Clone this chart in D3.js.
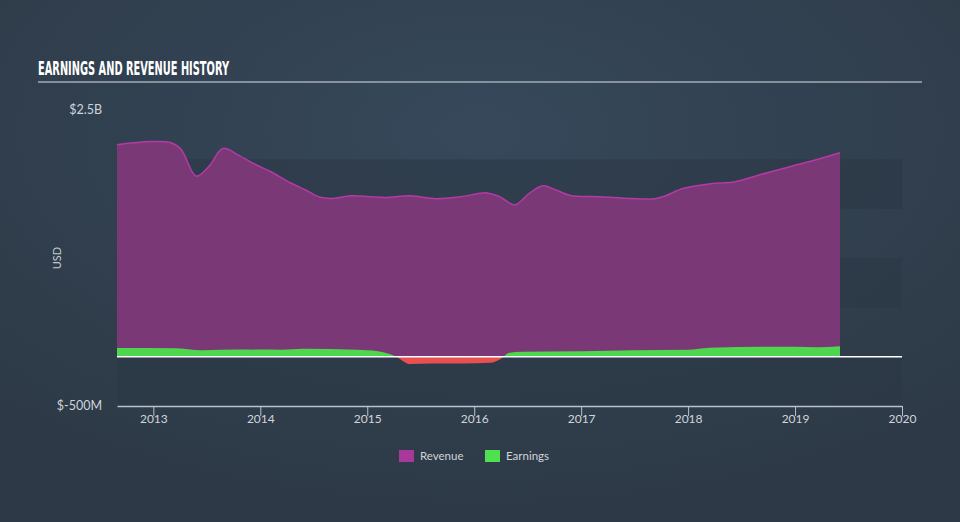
<!DOCTYPE html>
<html>
<head>
<meta charset="utf-8">
<script src="https://cdn.jsdelivr.net/npm/d3@7"></script>
<style>
  html, body { margin: 0; padding: 0; background: #2f3c4b; }
  svg { display: block; }
</style>
</head>
<body>
<svg id="chart" width="960" height="522"></svg>
<script>
// ---- Data (values in millions USD, x in decimal years) ----
const revenueYears = [2012.66, 2012.97, 2013.16, 2013.26, 2013.40, 2013.52, 2013.65, 2013.80, 2013.95, 2014.10, 2014.28, 2014.42, 2014.56, 2014.70, 2014.84, 2015.03, 2015.17, 2015.40, 2015.64, 2015.87, 2016.12, 2016.24, 2016.38, 2016.52, 2016.64, 2016.76, 2016.90, 2017.18, 2017.46, 2017.69, 2017.79, 2017.95, 2018.21, 2018.44, 2018.67, 2018.95, 2019.23, 2019.42];
const revenueValues = [2148, 2180, 2170, 2100, 1830, 1930, 2110, 2040, 1950, 1874, 1763, 1692, 1615, 1605, 1631, 1621, 1613, 1631, 1601, 1621, 1660, 1620, 1540, 1660, 1733, 1692, 1633, 1621, 1603, 1601, 1631, 1705, 1753, 1773, 1844, 1925, 2006, 2067];
const earningsYears = [2012.66, 2013.2, 2013.45, 2013.8, 2014.2, 2014.4, 2014.9, 2015.1, 2015.2, 2015.27, 2015.4, 2015.6, 2015.9, 2016.15, 2016.25, 2016.33, 2016.45, 2017.0, 2017.5, 2018.0, 2018.2, 2018.7, 2019.0, 2019.2, 2019.42];
const earningsValues = [88, 86, 65, 72, 70, 80, 70, 55, 30, 0, -75, -68, -70, -62, -20, 40, 50, 55, 65, 70, 90, 100, 100, 95, 105];
const xTickValues = [2013, 2014, 2015, 2016, 2017, 2018, 2019, 2020];
const yTickValues = [2500, -500];
const yTickLabels = ["$2.5B", "$-500M"];
const bandStarts = [1500, 500, -500];
const legendLabels = ["Revenue", "Earnings"];

const svg = d3.select("#chart");
const W = 960, H = 522;
const plotL = 117, plotR = 902, plotT = 110, plotB = 406;

// background gradient
const defs = svg.append("defs");
const rg = defs.append("radialGradient").attr("id", "bg")
  .attr("cx", "50%").attr("cy", "25%").attr("r", "75%");
rg.append("stop").attr("offset", "0%").attr("stop-color", "#36485a");
rg.append("stop").attr("offset", "100%").attr("stop-color", "#2d3946");
svg.append("rect").attr("width", W).attr("height", H).attr("fill", "url(#bg)");

const x = d3.scaleLinear().domain([2012.66, 2020]).range([plotL, plotR]);
const y = d3.scaleLinear().domain([-500, 2500]).range([plotB, plotT]);

// bands
svg.append("g").selectAll("rect").data(bandStarts).join("rect")
  .attr("x", plotL).attr("width", plotR - plotL)
  .attr("y", d => y(d + 500))
  .attr("height", d => y(d) - y(d + 500))
  .attr("fill", "#2a3644").attr("opacity", 0.5);

// clip paths
defs.append("clipPath").attr("id", "above").append("rect")
  .attr("x", 0).attr("y", 0).attr("width", W).attr("height", y(0));
defs.append("clipPath").attr("id", "below").append("rect")
  .attr("x", 0).attr("y", y(0)).attr("width", W).attr("height", H - y(0));

const rev = revenueYears.map((t, i) => ({ t, v: revenueValues[i] }));
const earn = earningsYears.map((t, i) => ({ t, v: earningsValues[i] }));

const curve = d3.curveCatmullRom.alpha(0.5);
const revArea = d3.area().x(d => x(d.t)).y0(y(0)).y1(d => y(d.v)).curve(curve);
const revLine = d3.line().x(d => x(d.t)).y(d => y(d.v)).curve(curve);
svg.append("path").datum(rev).attr("d", revArea).attr("fill", "#7b3877");
svg.append("path").datum(rev).attr("d", revLine).attr("fill", "none")
  .attr("stroke", "#b43aa5").attr("stroke-width", 1.5);

const earnCurve = d3.curveMonotoneX;
const earnArea = d3.area().x(d => x(d.t)).y0(y(0)).y1(d => y(d.v)).curve(earnCurve);
svg.append("path").datum(earn).attr("d", earnArea).attr("fill", "#4fd64f")
  .attr("clip-path", "url(#above)");
svg.append("path").datum(earn).attr("d", earnArea).attr("fill", "#e8504f")
  .attr("clip-path", "url(#below)");

// zero line
svg.append("line").attr("x1", plotL).attr("x2", plotR)
  .attr("y1", y(0)).attr("y2", y(0)).attr("stroke", "#ffffff").attr("stroke-width", 1.5);

// x axis
const xAxis = d3.axisBottom(x).tickValues(xTickValues).tickFormat(d3.format("d"))
  .tickSize(10).tickSizeOuter(0);
const gx = svg.append("g").attr("transform", `translate(0,${plotB})`).call(xAxis);
gx.select(".domain").attr("stroke", "#b8c2cc").attr("stroke-width", 1.5);
gx.selectAll(".tick line").attr("stroke", "#b8c2cc").attr("stroke-width", 1);
gx.selectAll(".tick text").attr("fill", "#d0d5da").attr("font-size", 12)
  .attr("font-family", "Lato, 'Open Sans', sans-serif").attr("y", 8).attr("dy", "0.71em");

// y labels
svg.append("g").selectAll("text").data(yTickValues).join("text")
  .attr("x", 102).attr("y", d => y(d)).attr("dy", "0.35em")
  .attr("text-anchor", "end").attr("fill", "#d0d5da").attr("font-size", 12.5)
  .attr("font-family", "Lato, 'Open Sans', sans-serif")
  .text((d, i) => yTickLabels[i]);

svg.append("text").attr("transform", `translate(61,258) rotate(-90)`)
  .attr("text-anchor", "middle").attr("fill", "#c4cad0").attr("font-size", 11)
  .attr("font-family", "Lato, 'Open Sans', sans-serif").text("USD");

// title
svg.append("text").attr("x", 38).attr("y", 75)
  .attr("fill", "#ffffff").attr("font-size", 19).attr("font-weight", "bold")
  .attr("font-family", "'DejaVu Sans Condensed', 'Liberation Sans Narrow', sans-serif")
  .attr("textLength", 191).attr("lengthAdjust", "spacingAndGlyphs")
  .text("EARNINGS AND REVENUE HISTORY");
svg.append("line").attr("x1", 38).attr("x2", 922).attr("y1", 82).attr("y2", 82)
  .attr("stroke", "#a3adb7").attr("stroke-width", 1.5);

// legend
const legendColors = ["#a8399a", "#4fe04f"];
const legendX = [399, 485];
const lg = svg.append("g").selectAll("g").data(legendLabels).join("g")
  .attr("transform", (d, i) => `translate(${legendX[i]},450)`);
lg.append("rect").attr("width", 15).attr("height", 12).attr("fill", (d, i) => legendColors[i]);
lg.append("text").attr("x", 21).attr("y", 10).attr("fill", "#d0d5da").attr("font-size", 11.5)
  .attr("font-family", "Lato, 'Open Sans', sans-serif").text(d => d);
</script>
</body>
</html>
